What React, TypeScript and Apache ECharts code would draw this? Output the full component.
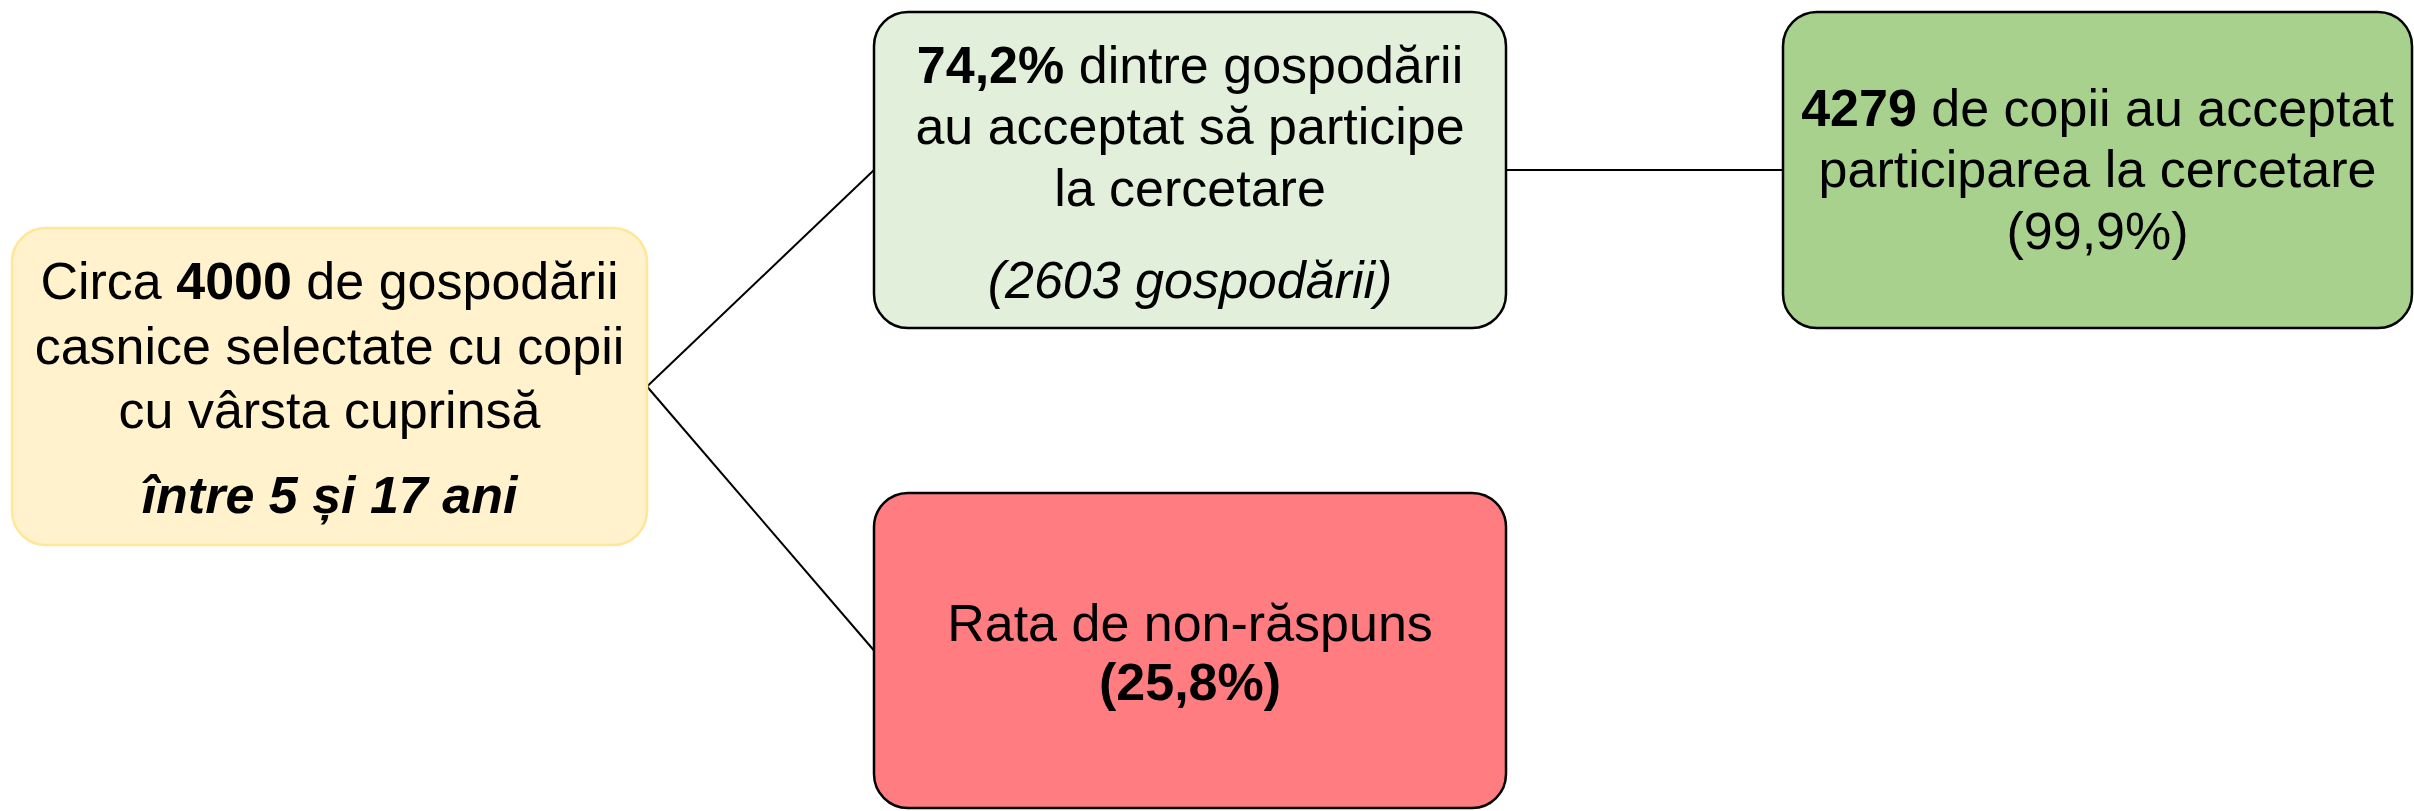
import React, { useEffect, useRef } from "react";
import * as echarts from "echarts";

// ---- data ----
const households = [4000, 2603]; // selected households, accepted households
const rates = [74.2, 99.9, 25.8]; // accepted households %, children participation %, non-response %
const children = [4279]; // children who accepted
const ageRange = [5, 17];

const fmt = (v: number) => v.toFixed(1).replace(".", ",");

const FONT = "'Liberation Sans', Arial, sans-serif";
const FS = 52;

type Seg = { t: string; b?: boolean; i?: boolean };

const nodeTexts: Seg[][][] = [
  [
    [{ t: "Circa " }, { t: String(households[0]), b: true }, { t: " de gospodării" }],
    [{ t: "casnice selectate cu copii" }],
    [{ t: "cu vârsta cuprinsă" }],
    [{ t: `între ${ageRange[0]} și ${ageRange[1]} ani`, b: true, i: true }],
  ],
  [
    [{ t: `${fmt(rates[0])}%`, b: true }, { t: " dintre gospodării" }],
    [{ t: "au acceptat să participe" }],
    [{ t: "la cercetare" }],
    [{ t: `(${households[1]} gospodării)`, i: true }],
  ],
  [
    [{ t: String(children[0]), b: true }, { t: " de copii au acceptat" }],
    [{ t: "participarea la cercetare" }],
    [{ t: `(${fmt(rates[1])}%)` }],
  ],
  [
    [{ t: "Rata de non-răspuns" }],
    [{ t: `(${fmt(rates[2])}%)`, b: true }],
  ],
];

// ---- layout ----
const boxes = [
  { x: 12, y: 228, w: 635, h: 317, fill: "#FFF2CC", stroke: "#FFE699" },
  { x: 874, y: 12, w: 632, h: 316, fill: "#E2EFDA", stroke: "#000000" },
  { x: 1783, y: 12, w: 629, h: 316, fill: "#A9D18E", stroke: "#000000" },
  { x: 874, y: 493, w: 632, h: 315, fill: "#FF7C80", stroke: "#000000" },
];
const lineYs = [
  [281, 346, 410, 495],
  [65, 126, 188, 280],
  [108, 169, 231],
  [623, 682],
];

export default function App() {
  const ref = useRef<HTMLDivElement>(null);
  useEffect(() => {
    document.body.style.margin = "0";
    const chart = echarts.init(ref.current!, null, { renderer: "svg" });
    const elements: any[] = [];
    const mid = (b: any) => [b.x, b.y + b.h / 2];
    const rightMid = (b: any) => [b.x + b.w, b.y + b.h / 2];
    const connectors = [
      [rightMid(boxes[0]), mid(boxes[1])],
      [rightMid(boxes[0]), mid(boxes[3])],
      [rightMid(boxes[1]), mid(boxes[2])],
    ];
    connectors.forEach(([a, b]) => {
      elements.push({
        type: "line",
        shape: { x1: a[0], y1: a[1], x2: b[0], y2: b[1] },
        style: { stroke: "#000", lineWidth: 2 },
        z: 1,
      });
    });
    boxes.forEach((b, bi) => {
      elements.push({
        type: "rect",
        shape: { x: b.x, y: b.y, width: b.w, height: b.h, r: 34 },
        style: { fill: b.fill, stroke: b.stroke, lineWidth: 2.5 },
        z: 2,
      });
      const cx = b.x + b.w / 2;
      nodeTexts[bi].forEach((line, li) => {
        const rich: any = {};
        let text = "";
        line.forEach((s, si) => {
          const key = "s" + si;
          rich[key] = {
            fontSize: FS,
            fontFamily: FONT,
            fontWeight: s.b ? "bold" : "normal",
            fontStyle: s.i ? "italic" : "normal",
            fill: "#000",
          };
          text += `{${key}|${s.t}}`;
        });
        elements.push({
          type: "text",
          x: cx,
          y: lineYs[bi][li],
          z: 3,
          style: {
            text,
            rich,
            fontSize: FS,
            fontFamily: FONT,
            fill: "#000",
            align: "center",
            verticalAlign: "middle",
          },
        });
      });
    });
    chart.setOption({
      animation: false,
      backgroundColor: "#ffffff",
      graphic: { elements },
    });
    return () => chart.dispose();
  }, []);
  return <div ref={ref} style={{ width: 2414, height: 811 }} />;
}
